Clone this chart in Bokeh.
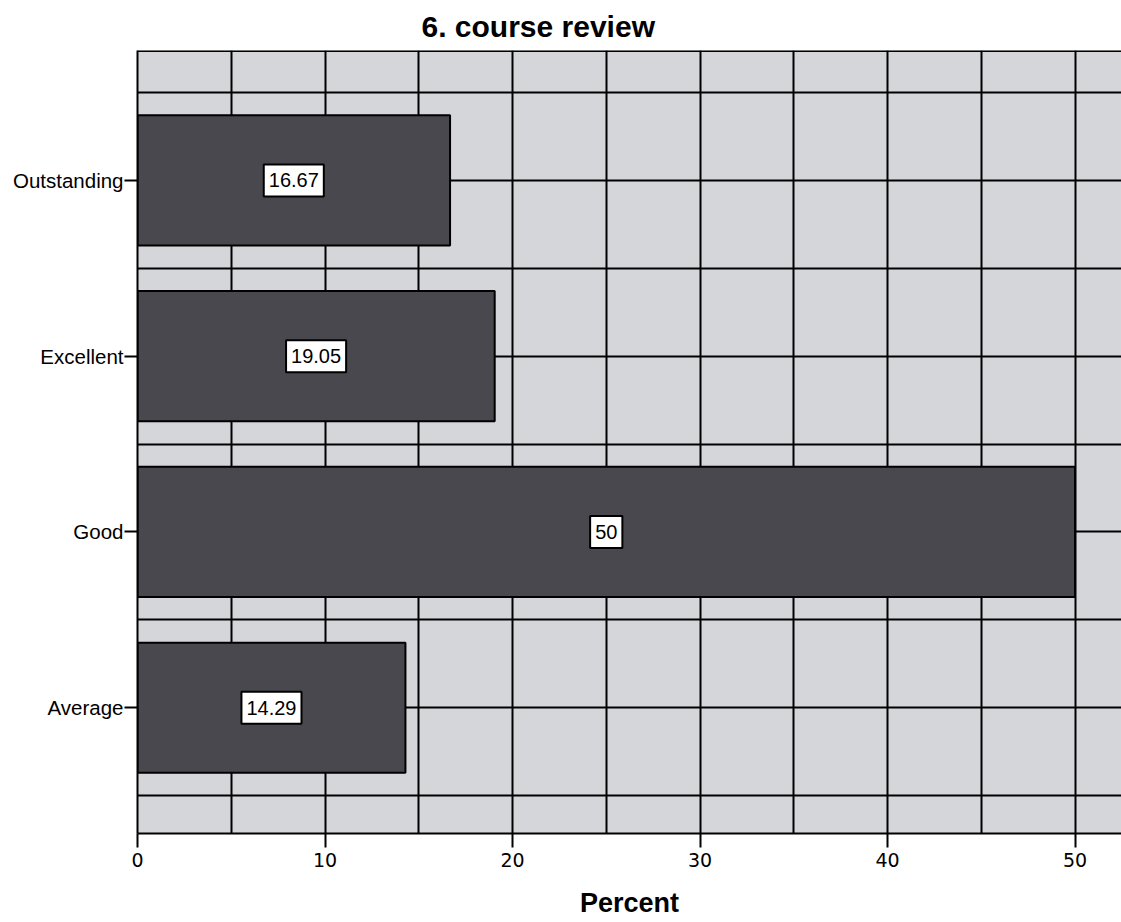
import numpy as np
from bokeh.plotting import figure
from bokeh.models import Range1d, FixedTicker, Label, Span
from bokeh.embed import file_html
from bokeh.resources import INLINE

# ---- data ----
categories = ["Average", "Good", "Excellent", "Outstanding"]
percent = [14.29, 50, 19.05, 16.67]
x_ticks = [0, 10, 20, 30, 40, 50]
title_text = "6. course review"
x_label = "Percent"

ypos = np.arange(1, len(categories) + 1)

BG = "#d5d6da"
BAR = "#48484e"

p = figure(width=1121, height=920, output_backend="svg", toolbar_location=None,
           x_range=Range1d(0, 52.48), y_range=Range1d(0.284, 4.739),
           min_border_left=137, min_border_right=0, min_border_top=50, min_border_bottom=86)

p.background_fill_color = BG
p.border_fill_color = "white"
p.outline_line_color = None

# title
p.title.text = title_text
p.title.text_font = "Liberation Sans"
p.title.text_font_size = "30px"
p.title.text_font_style = "bold"
p.title.text_color = "black"
p.title.align = "left"
p.title.offset = 284
p.title.standoff = 15

# grids
p.xgrid.ticker = FixedTicker(ticks=list(range(0, 55, 5)))
p.ygrid.ticker = FixedTicker(ticks=[0.5 + 0.5 * i for i in range(2 * len(categories) + 1)])
for g in (p.xgrid, p.ygrid):
    g.grid_line_color = "black"
    g.grid_line_width = 2
    g.grid_line_alpha = 1.0

# bars
p.hbar(y=ypos, right=percent, left=0, height=0.74, fill_color=BAR,
       line_color="black", line_width=2)

# value labels
for v, yv in zip(percent, ypos):
    p.add_layout(Label(x=v / 2, y=yv, text=f"{v:g}", text_align="center",
                       text_baseline="middle", text_font="Liberation Sans",
                       text_font_size="20px", text_color="black",
                       background_fill_color="white", border_line_color="black",
                       border_line_width=2,
                       padding=dict(left=5, right=5, top=9, bottom=9)))

# top border
p.add_layout(Span(location=4.739, dimension="width", line_color="black", line_width=3))

# x axis
xa = p.xaxis[0]
xa.ticker = FixedTicker(ticks=x_ticks)
xa.axis_line_color = "black"
xa.axis_line_width = 2
xa.major_tick_line_color = "black"
xa.major_tick_line_width = 2
xa.major_tick_out = 14
xa.major_tick_in = 0
xa.minor_tick_line_color = None
xa.major_label_text_font = "DejaVu Sans"
xa.major_label_text_font_size = "19px"
xa.major_label_text_color = "black"
xa.major_label_standoff = 5
xa.axis_label = x_label
xa.axis_label_text_font = "Liberation Sans"
xa.axis_label_text_font_size = "27px"
xa.axis_label_text_font_style = "bold"
xa.axis_label_text_color = "black"
xa.axis_label_standoff = 18

# y axis
ya = p.yaxis[0]
ya.ticker = FixedTicker(ticks=list(ypos))
ya.major_label_overrides = {int(k): c for k, c in zip(ypos, categories)}
ya.axis_line_color = "black"
ya.axis_line_width = 2
ya.major_tick_line_color = "black"
ya.major_tick_line_width = 2
ya.major_tick_out = 13
ya.major_tick_in = 0
ya.minor_tick_line_color = None
ya.major_label_text_font = "Liberation Sans"
ya.major_label_text_font_size = "20.5px"
ya.major_label_text_color = "black"
ya.major_label_standoff = 1

open("out.html", "w").write(file_html(p, INLINE))
